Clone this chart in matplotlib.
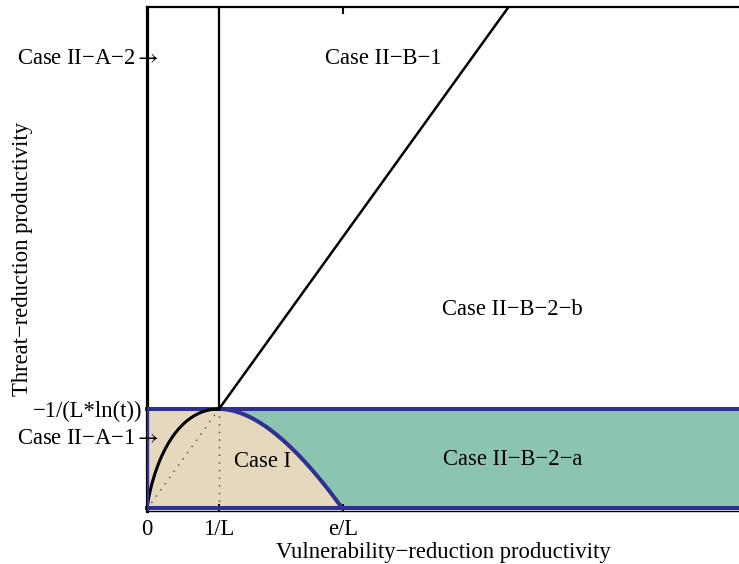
import numpy as np
import matplotlib
matplotlib.use('Agg')
import matplotlib.pyplot as plt

plt.rcParams['font.family'] = ['Liberation Serif', 'DejaVu Serif']
plt.rcParams['mathtext.fontset'] = 'stix'

# parametry modelu (L = 1, t = 1/e, wtedy -1/(L*ln(t)) = 1)
L = 1.0
t = np.exp(-1.0)
y_max = -1.0 / (L * np.log(t))

x_ticks = [0.0, 1.0 / L, np.e / L]
x_tick_labels = ['0', '1/L', 'e/L']
y_ticks = [y_max]
y_tick_labels = ['\u22121/(L*ln(t))']

x_lim = (0.0, 8.22)
y_lim = (-0.02, 5.02)

region_names = ['Case II\u2212A\u22122', 'Case II\u2212B\u22121', 'Case II\u2212B\u22122\u2212b',
                'Case II\u2212B\u22122\u2212a', 'Case I', 'Case II\u2212A\u22121']

tan = '#e5d8bd'
teal = '#8bc4b1'
navy = '#2e3192'


def granica(x):
    # krzywa -x(1 - ln(Lx))/ln(t), zero w 0 i e/L, maksimum w 1/L
    x = np.asarray(x, dtype=float)
    out = np.zeros_like(x)
    m = x > 0
    out[m] = -x[m] * (1 - np.log(L * x[m])) / np.log(t)
    return out


fig = plt.figure(figsize=(7.39, 5.64), dpi=100)
ax = fig.add_axes([0.1989, 0.0940, 0.8011, 0.8936])

# wypelnienia obszarow
xs = np.linspace(0, x_lim[1], 2000)
prawa = np.where(xs <= 1.0 / L, y_max, granica(np.minimum(xs, np.e / L)))
prawa = np.where(xs >= np.e / L, 0.0, prawa)
ax.fill_between(xs, 0, prawa, color=tan, lw=0, zorder=1)
ax.fill_between(xs, prawa, y_max, color=teal, lw=0, zorder=1)

# linie kropkowane
ax.plot([0, 1.0 / L], [0, y_max], color='#444444', lw=1.0, ls=(0, (1, 4.5)), zorder=2)
ax.plot([1.0 / L, 1.0 / L], [0, y_max], color='#444444', lw=1.0, ls=(0, (1, 4.5)), zorder=2)

# granice niebieskie
xb = np.linspace(1.0 / L, np.e / L, 300)
ax.plot(xb, granica(xb), color=navy, lw=2.9, zorder=3, solid_capstyle='butt')
ax.plot([0, x_lim[1]], [y_max, y_max], color=navy, lw=2.9, zorder=3, clip_on=False)
ax.plot([0, x_lim[1]], [0.012, 0.012], color=navy, lw=2.9, zorder=3, clip_on=False)
ax.plot([0.005, 0.005], [0, y_max], color=navy, lw=2.9, zorder=6)

# czarne linie
xa = np.linspace(0, 1.0 / L, 400)
ax.plot(xa, granica(xa), color='black', lw=2.2, zorder=4)
ax.plot([1.0 / L, 1.0 / L], [y_max, y_lim[1]], color='black', lw=1.6, zorder=4)
ax.plot([1.0 / L, y_lim[1] * L], [y_max, y_lim[1]], color='black', lw=1.8, zorder=4)

ax.set_xlim(*x_lim)
ax.set_ylim(*y_lim)
ax.set_xticks(x_ticks)
ax.set_xticklabels(x_tick_labels)
ax.set_yticks(y_ticks)
ax.set_yticklabels(y_tick_labels)
ax.tick_params(direction='in', top=True, right=False, length=5, width=1.5,
               labelsize=16.3, colors='black')
ax.tick_params(axis='x', pad=5.5)
ax.tick_params(axis='y', pad=3)

ax.spines['right'].set_visible(False)
ax.spines['top'].set_linewidth(1.6)
ax.spines['left'].set_linewidth(2.3)
ax.spines['bottom'].set_linewidth(1.0)
for s in ax.spines.values():
    s.set_zorder(5)

fs = 16.3
strz = r'$\rightarrow$'
ax.text(0.17, 4.5, region_names[0] + strz, ha='right', va='center', fontsize=fs, zorder=7)
ax.text(3.28, 4.5, region_names[1], ha='center', va='center', fontsize=fs, zorder=7)
ax.text(5.08, 1.99, region_names[2], ha='center', va='center', fontsize=fs, zorder=7)
ax.text(5.08, 0.49, region_names[3], ha='center', va='center', fontsize=fs, zorder=7)
ax.text(1.61, 0.47, region_names[4], ha='center', va='center', fontsize=fs, zorder=7)
ax.text(0.17, 0.70, region_names[5] + strz, ha='right', va='center', fontsize=fs, zorder=7)

ax.set_xlabel('Vulnerability\u2212reduction productivity', fontsize=fs, labelpad=1.5)
ax.set_ylabel('Threat\u2212reduction productivity', fontsize=fs, labelpad=0.5)

fig.savefig('out.png', dpi=100)
